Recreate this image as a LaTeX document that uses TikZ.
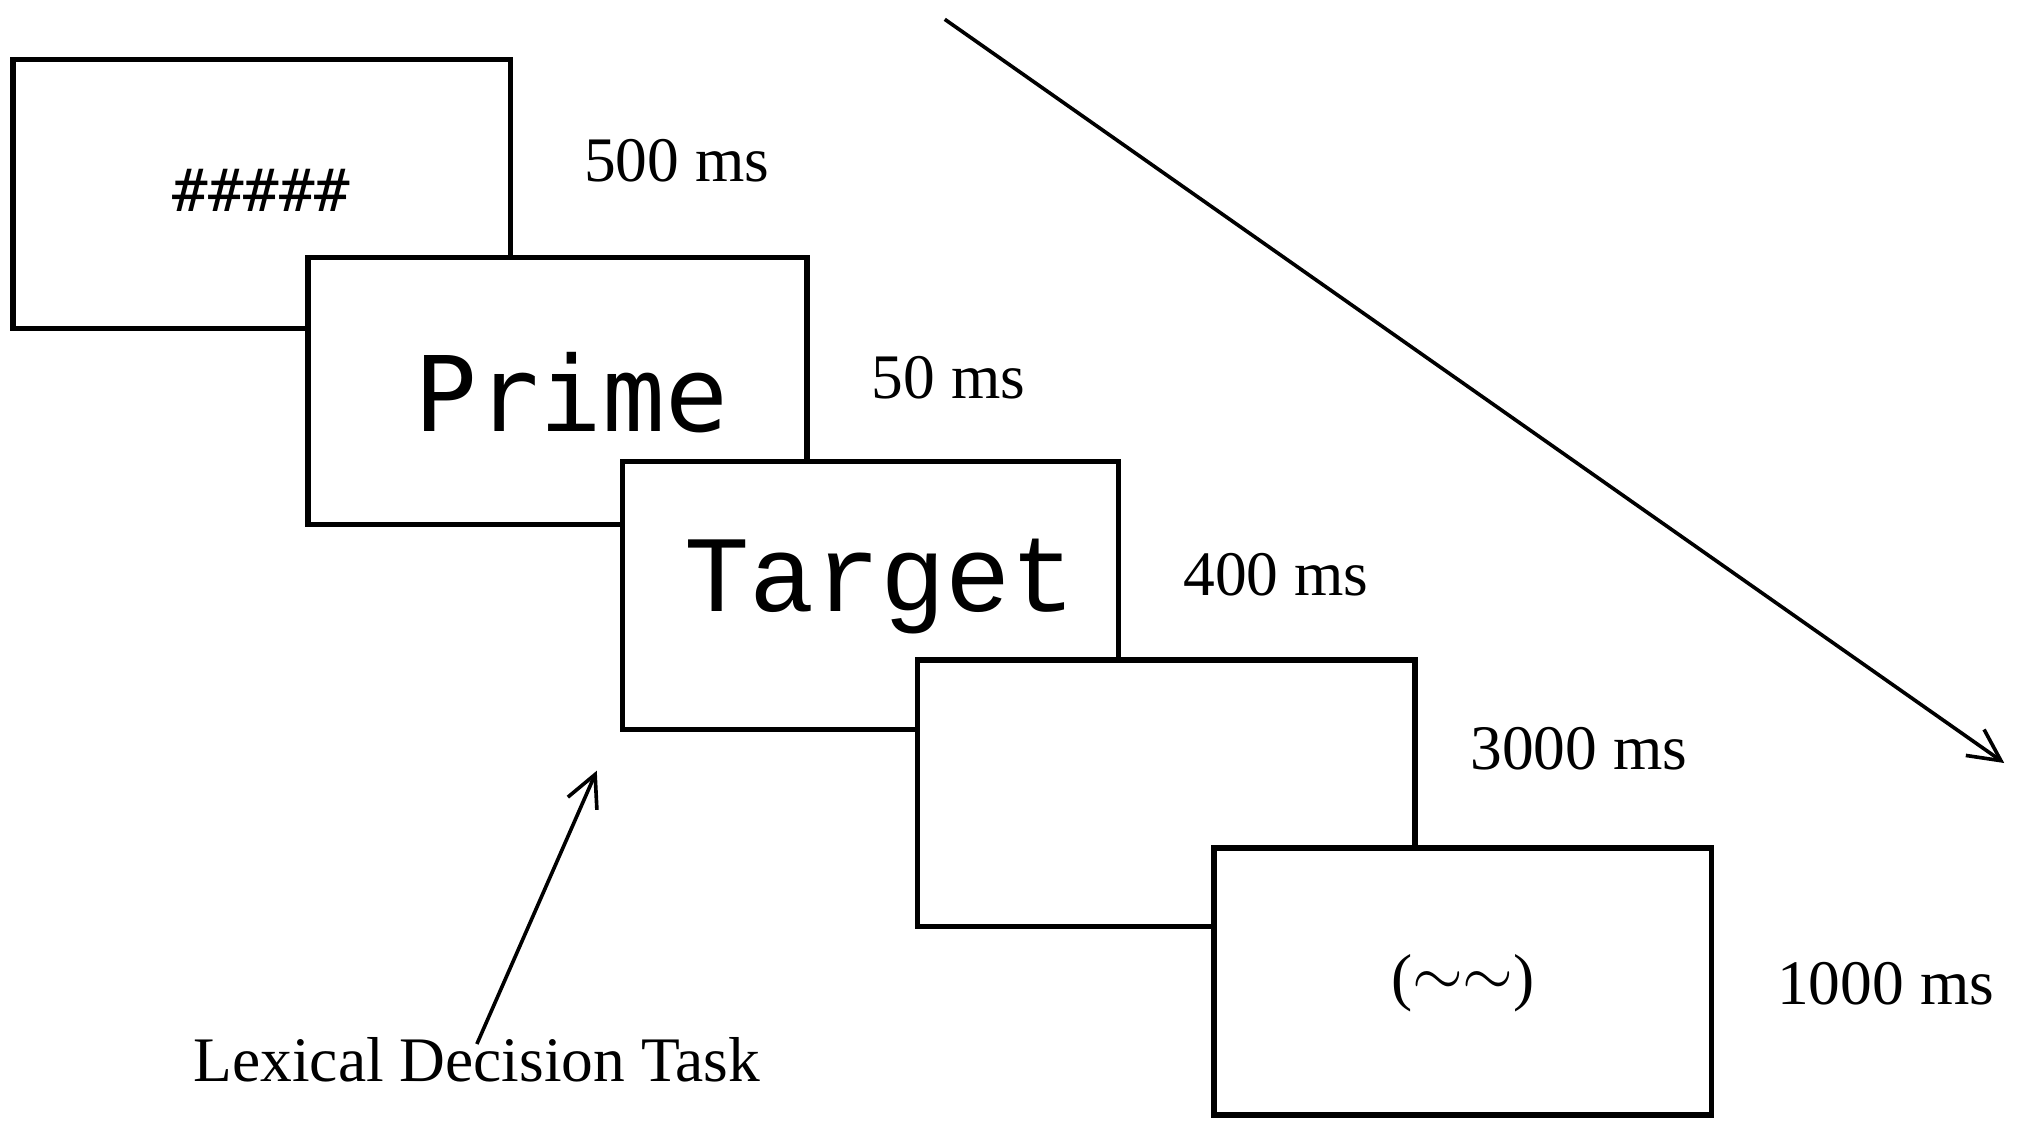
\documentclass[tikz,border=0pt]{standalone}
\usepackage{fontspec}
\setmainfont{Liberation Serif}
\newfontfamily\monoA{DejaVu Sans Mono}
\newfontfamily\monoB{Liberation Mono}
\usetikzlibrary{arrows.meta}
\begin{document}
\begin{tikzpicture}[x=0.01cm,y=-0.01cm,
  scr/.style={draw=black,line width=1.2pt,fill=white},
  lab/.style={font=\fontsize{14}{16}\selectfont},
  arr/.style={line width=0.8pt,-{Straight Barb[length=7pt,width=7pt]}}]
\useasboundingbox (0,0) rectangle (1568,883);
\draw[scr] (10,46) rectangle (396,255);
\node (h) at (203,148) {\monoA\fontsize{13}{15}\selectfont \#\#\#\#\#};
\draw[scr] (239,200) rectangle (626,407);
\node (p) at (443,305) {\monoA\fontsize{23}{26}\selectfont Prime};
\draw[scr] (483,358) rectangle (868,566);
\node (t) at (683,455) {\monoB\fontsize{24}{28}\selectfont Target};
\draw[scr] (712,512) rectangle (1098,719);
\draw[scr] (942,658) rectangle (1328,865);
\node (c) at (1135,763) {\fontsize{14}{16}\selectfont (\raisebox{0.1ex}{$\sim\sim$})};
\node[lab] (l1) at (525,125) {500 ms};
\node[lab] (l2) at (736,293) {50 ms};
\node[lab] (l3) at (990,446) {400 ms};
\node[lab] (l4) at (1225,581) {3000 ms};
\node[lab] (l5) at (1463,763) {1000 ms};
\node[lab] (ldt) at (370,822) {Lexical Decision Task};
\coordinate (a0) at (733,15);
\coordinate (a1) at (1555,592);
\draw[arr] (a0) -- (a1);
\coordinate (b0) at (370,810);
\coordinate (b1) at (463,598);
\draw[arr] (b0) -- (b1);
\end{tikzpicture}
\end{document}
